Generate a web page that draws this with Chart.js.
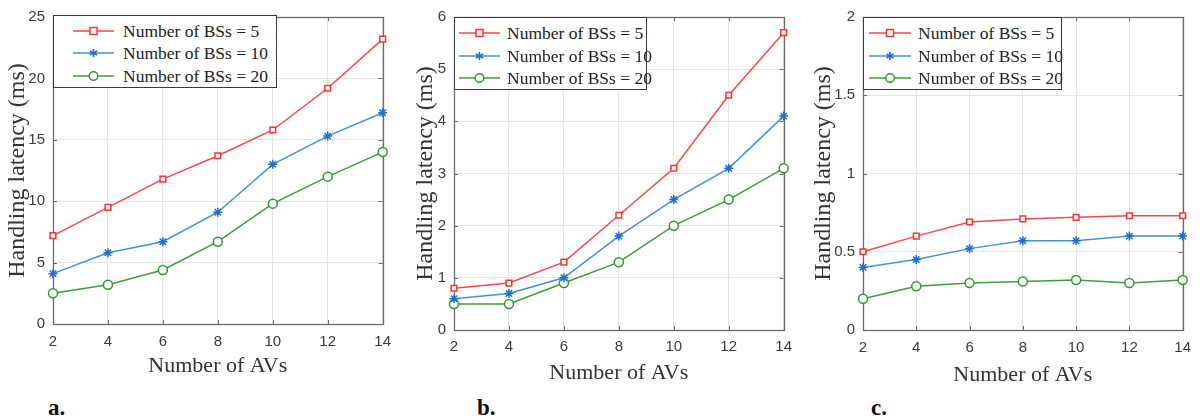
<!DOCTYPE html>
<html>
<head>
<meta charset="utf-8">
<script src="https://cdn.jsdelivr.net/npm/chart.js@4.4.1/dist/chart.umd.min.js"></script>
<style>
  html, body { margin: 0; padding: 0; background: #fff; }
  body { width: 1200px; height: 419px; position: relative; overflow: hidden; }
  .panel { position: absolute; top: 0; width: 400px; height: 395px; }
  .legend { position: absolute; background: #fff; border: 1px solid #3a3a3a; box-sizing: border-box; }
  .legend .row { position: absolute; height: 20px; line-height: 20px; white-space: nowrap;
                 font-family: "Liberation Serif", "Times New Roman", serif; font-size: 17.5px; color: #222; }
  .legend svg { position: absolute; top: 5px; }
  .legend span { position: absolute; top: 0; }
  .plabel { position: absolute; top: 396px; font-family: "Liberation Serif", "Times New Roman", serif;
            font-weight: bold; font-size: 23px; line-height: 23px; color: #111; }
</style>
</head>
<body>
<div class="panel" style="left:0px"><canvas id="ca" width="400" height="395"></canvas></div>
<div class="panel" style="left:400px"><canvas id="cb" width="400" height="395"></canvas></div>
<div class="panel" style="left:800px"><canvas id="cc" width="400" height="395"></canvas></div>
<div class="plabel" style="left:48px">a.</div>
<div class="plabel" style="left:477px">b.</div>
<div class="plabel" style="left:871px">c.</div>
<script>
// ---------- data ----------
const avs = ['2', '4', '6', '8', '10', '12', '14'];
const seriesNames = ['Number of BSs = 5', 'Number of BSs = 10', 'Number of BSs = 20'];

const aBS5  = [7.2, 9.5, 11.8, 13.7, 15.8, 19.2, 23.2];
const aBS10 = [4.1, 5.8, 6.7, 9.1, 13.0, 15.3, 17.2];
const aBS20 = [2.5, 3.2, 4.4, 6.7, 9.8, 12.0, 14.0];

const bBS5  = [0.8, 0.9, 1.3, 2.2, 3.1, 4.5, 5.7];
const bBS10 = [0.6, 0.7, 1.0, 1.8, 2.5, 3.1, 4.1];
const bBS20 = [0.5, 0.5, 0.9, 1.3, 2.0, 2.5, 3.1];

const cBS5  = [0.5, 0.6, 0.69, 0.71, 0.72, 0.73, 0.73];
const cBS10 = [0.4, 0.45, 0.52, 0.57, 0.57, 0.6, 0.6];
const cBS20 = [0.2, 0.28, 0.3, 0.31, 0.32, 0.3, 0.32];

const yMaxes = [25, 6, 2];
const ySteps = [5, 1, 0.5];
const xTitle = 'Number of AVs';
const yTitle = 'Handling latency (ms)';

// ---------- styles ----------
const colors = ['#ff4545', '#3f93dc', '#3c9e3c'];
const markerColors = ['#ff3030', '#1f6fcf', '#2e9a2e'];
const pointStyles = ['rect', 'star', 'circle'];
const pointRadii = [4, 4.5, 4.5];

// per-panel layout (pixels, canvas-local)
const layouts = [
  { yWidth: 53, top: 15, right: 17, xHeight: 71, tickPad: 9, titleBottom: 16, yTitlePad: 3.5,
    legend: { left: 53, top: 15, width: 224, height: 73, sx: 19, sw: 41, tx: 69, rows: [15, 37, 60] } },
  { yWidth: 54, top: 17, right: 14, xHeight: 65, tickPad: 8, titleBottom: 9, yTitlePad: 11,
    legend: { left: 454, top: 17, width: 193, height: 73, sx: 4, sw: 41, tx: 52, rows: [15, 38, 60] } },
  { yWidth: 63, top: 17, right: 12, xHeight: 65, tickPad: 9, titleBottom: 7, yTitlePad: 9,
    legend: { left: 863, top: 17, width: 199, height: 73, sx: 5, sw: 42, tx: 54, rows: [15, 38, 60] } }
];

const frame = {
  id: 'frame',
  beforeDatasetsDraw(chart) {
    const { ctx, chartArea: a, scales } = chart;
    ctx.save();
    ctx.strokeStyle = '#6a6a6a';
    ctx.lineWidth = 1;
    const tl = 4;
    ctx.beginPath();
    scales.x.ticks.forEach((t, i) => {
      const px = Math.round(scales.x.getPixelForTick(i)) + 0.5;
      ctx.moveTo(px, a.bottom); ctx.lineTo(px, a.bottom - tl);
      ctx.moveTo(px, a.top); ctx.lineTo(px, a.top + tl);
    });
    scales.y.ticks.forEach((t) => {
      const py = Math.round(scales.y.getPixelForValue(t.value)) + 0.5;
      ctx.moveTo(a.left, py); ctx.lineTo(a.left + tl, py);
      ctx.moveTo(a.right, py); ctx.lineTo(a.right - tl, py);
    });
    ctx.stroke();
    ctx.lineWidth = 1.3;
    ctx.strokeRect(Math.round(a.left) + 0.5, Math.round(a.top) + 0.5,
                   Math.round(a.right - a.left), Math.round(a.bottom - a.top));
    ctx.restore();
  }
};

function makeChart(id, idx, series) {
  const L = layouts[idx];
  const datasets = series.map((vals, s) => ({
    label: seriesNames[s],
    data: vals,
    borderColor: colors[s],
    borderWidth: 1.5,
    pointStyle: pointStyles[s],
    pointRadius: pointRadii[s],
    pointBorderColor: markerColors[s],
    pointBackgroundColor: s === 1 ? markerColors[s] : '#ffffff',
    pointBorderWidth: 1.5,
    tension: 0,
    clip: false
  }));
  return new Chart(document.getElementById(id), {
    type: 'line',
    data: { labels: avs, datasets },
    options: {
      responsive: false,
      animation: false,
      events: [],
      layout: { padding: { left: 0, top: L.top, right: L.right, bottom: 0 } },
      plugins: { legend: { display: false }, tooltip: { enabled: false } },
      scales: {
        x: {
          type: 'category',
          offset: false,
          grid: { color: '#e4e4e4', lineWidth: 1, drawTicks: false },
          border: { display: false },
          ticks: { padding: L.tickPad, color: '#3a3a3a', maxRotation: 0,
                   font: { family: '"Liberation Sans", Arial, sans-serif', size: 15 } },
          title: { display: true, text: xTitle, color: '#333',
                   padding: { top: 0, bottom: L.titleBottom },
                   font: { family: '"Liberation Serif", "Times New Roman", serif', size: 22 } },
          afterFit(scale) { scale.height = L.xHeight; }
        },
        y: {
          min: 0, max: yMaxes[idx],
          grid: { color: '#e4e4e4', lineWidth: 1, drawTicks: false },
          border: { display: false },
          ticks: { stepSize: ySteps[idx], padding: 8, color: '#3a3a3a',
                   callback: (v) => String(Math.round(v * 100) / 100),
                   font: { family: '"Liberation Sans", Arial, sans-serif', size: 15 } },
          title: { display: true, text: yTitle, color: '#333',
                   padding: { top: L.yTitlePad, bottom: 0 },
                   font: { family: '"Liberation Serif", "Times New Roman", serif', size: 24 } },
          afterFit(scale) { scale.width = L.yWidth; }
        }
      }
    },
    plugins: [frame]
  });
}

makeChart('ca', 0, [aBS5, aBS10, aBS20]);
makeChart('cb', 1, [bBS5, bBS10, bBS20]);
makeChart('cc', 2, [cBS5, cBS10, cBS20]);

// ---------- HTML legends ----------
function markerSvg(s, w) {
  const c = colors[s], m = markerColors[s], cy = 5, cx = w / 2;
  let mk = '';
  if (s === 0) mk = `<rect x="${cx - 3.5}" y="${cy - 3.5}" width="7" height="7" fill="#fff" stroke="${m}" stroke-width="1.5"/>`;
  if (s === 1) mk = `<g stroke="${m}" stroke-width="1.6"><line x1="${cx}" y1="${cy - 4}" x2="${cx}" y2="${cy + 4}"/><line x1="${cx - 3.5}" y1="${cy - 2}" x2="${cx + 3.5}" y2="${cy + 2}"/><line x1="${cx - 3.5}" y1="${cy + 2}" x2="${cx + 3.5}" y2="${cy - 2}"/></g>`;
  if (s === 2) mk = `<circle cx="${cx}" cy="${cy}" r="4.3" fill="#fff" stroke="${m}" stroke-width="1.5"/>`;
  return `<svg width="${w}" height="10" viewBox="0 0 ${w} 10"><line x1="0" y1="${cy}" x2="${w}" y2="${cy}" stroke="${c}" stroke-width="1.5"/>${mk}</svg>`;
}
layouts.forEach((L) => {
  const g = L.legend;
  const box = document.createElement('div');
  box.className = 'legend';
  Object.assign(box.style, { left: g.left + 'px', top: g.top + 'px', width: g.width + 'px', height: g.height + 'px' });
  seriesNames.forEach((name, s) => {
    const row = document.createElement('div');
    row.className = 'row';
    row.style.top = (g.rows[s] - 10) + 'px';
    row.style.left = '0px';
    row.style.width = '100%';
    row.innerHTML = `<div style="position:absolute;left:${g.sx}px;top:0">${markerSvg(s, g.sw)}</div><span style="left:${g.tx}px">${name}</span>`;
    box.appendChild(row);
  });
  document.body.appendChild(box);
});
</script>
</body>
</html>
